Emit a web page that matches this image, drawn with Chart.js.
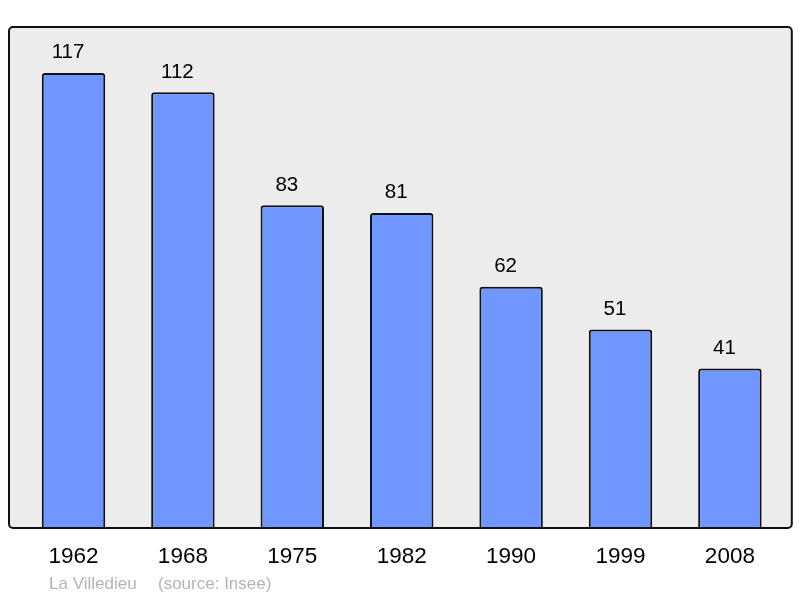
<!DOCTYPE html>
<html><head><meta charset="utf-8">
<script src="https://cdn.jsdelivr.net/npm/chart.js@4"></script>
<style>html,body{margin:0;padding:0;background:#fff}#wrap{width:800px;height:598px}</style>
</head><body><div id="wrap"><canvas id="c" width="800" height="598"></canvas></div>
<script>
const years = ["1962","1968","1975","1982","1990","1999","2008"];
const population = [117,112,83,81,62,51,41];
const placeName = "La Villedieu";
const sourceText = "(source: Insee)";
const FONT = "'Liberation Sans', Arial, sans-serif";

const framePlugin = {
  id: 'frame',
  beforeDatasetsDraw(chart) {
    const {ctx, chartArea: a} = chart;
    ctx.save();
    const x = a.left - 9.8, w = a.right - a.left + 17;
    ctx.beginPath();
    ctx.roundRect(x, a.top, w, a.bottom - a.top, 4);
    ctx.fillStyle = '#ececec';
    ctx.fill();
    ctx.restore();
  },
  afterDatasetsDraw(chart) {
    const {ctx, chartArea: a} = chart;
    ctx.save();
    const x = a.left - 9.8, w = a.right - a.left + 17;
    ctx.beginPath();
    ctx.roundRect(x, a.top, w, a.bottom - a.top, 4);
    ctx.lineWidth = 2;
    ctx.strokeStyle = '#111';
    ctx.stroke();
    // value labels
    const meta = chart.getDatasetMeta(0);
    ctx.fillStyle = '#000';
    ctx.font = '20.5px ' + FONT;
    ctx.textAlign = 'center';
    ctx.textBaseline = 'alphabetic';
    meta.data.forEach((bar, i) => {
      ctx.fillText(String(population[i]), bar.x - 5.5, bar.y - 14.5);
    });
    // footer
    ctx.fillStyle = '#b4b4b4';
    ctx.font = '17px ' + FONT;
    ctx.textAlign = 'left';
    ctx.fillText(placeName, 49, 589);
    ctx.fillText(sourceText, 158, 589);
    ctx.restore();
  }
};

new Chart(document.getElementById('c'), {
  type: 'bar',
  data: {
    labels: years,
    datasets: [{
      data: population,
      backgroundColor: '#7097ff',
      borderColor: '#111',
      borderWidth: 2,
      borderRadius: {topLeft: 3, topRight: 3, bottomLeft: 0, bottomRight: 0},
      borderSkipped: 'bottom',
      barPercentage: 0.58,
      categoryPercentage: 1
    }]
  },
  options: {
    responsive: false,
    devicePixelRatio: 1,
    animation: false,
    layout: {padding: {top: 27, left: 18.8, right: 15.4, bottom: 12}},
    plugins: {legend: {display: false}, tooltip: {enabled: false}},
    scales: {
      x: {
        grid: {display: false, drawTicks: false},
        border: {display: false},
        ticks: {color: '#000', font: {family: FONT, size: 22.5}, padding: 15.5}
      },
      y: {display: false, min: 0, max: 128.8}
    }
  },
  plugins: [framePlugin]
});
</script></body></html>
